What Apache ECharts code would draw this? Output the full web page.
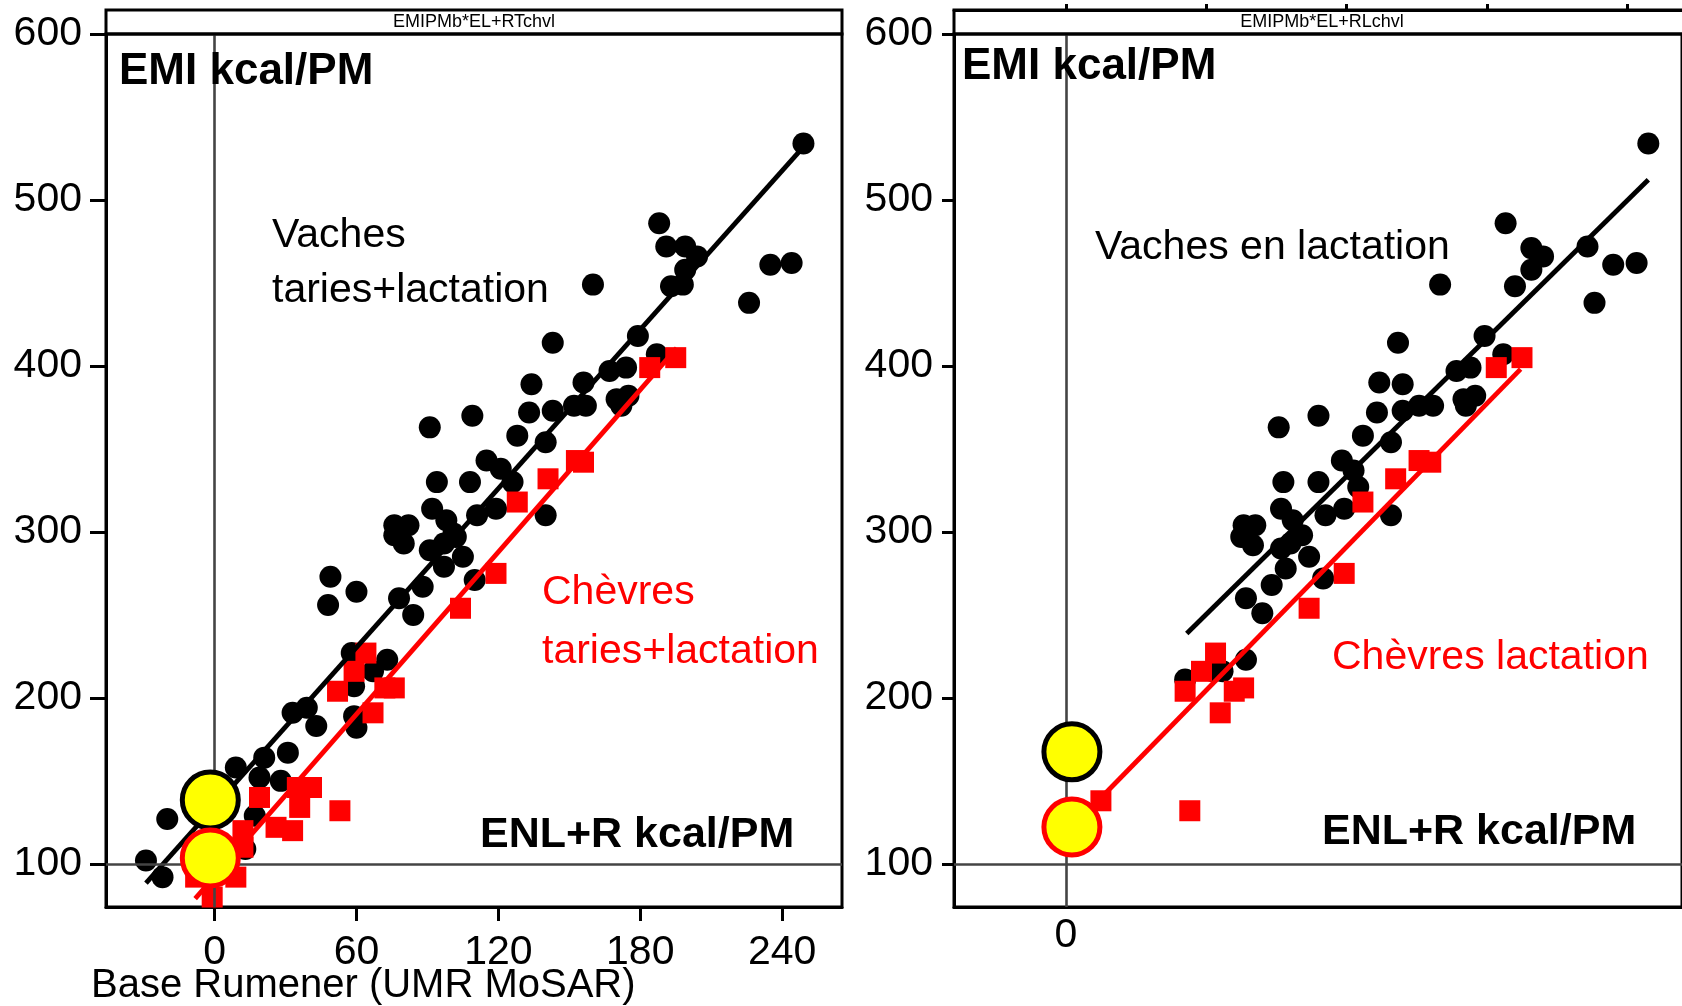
<!DOCTYPE html>
<html><head><meta charset="utf-8">
<script src="https://cdn.jsdelivr.net/npm/echarts@6/dist/echarts.min.js"></script>
<style>html,body{margin:0;padding:0;background:#fff}#c{width:1682px;height:1006px}</style>
</head><body><div id="c"></div><script>
// ---- tick labels ----
const xTicks = [0, 60, 120, 180, 240];
const yTicks = [100, 200, 300, 400, 500, 600];
const xTicksRightLabels = [0];

// ---- panel titles / texts ----
const headerLeft = 'EMIPMb*EL+RTchvl';
const headerRight = 'EMIPMb*EL+RLchvl';

// ---- left panel: taries + lactation ----
const vachesTL = [[249,534],[188,486],[191,472],[199,472],[204,466],[199,458],[193,448],[198,449],[235,461],[244,462],
[226,438],[160,449],[179,418],[143,414],[187,407],[174,399],[167,397],[156,390],[134,389],[170,380],[175,382],[172,376],
[157,376],[152,376],[143,373],[133,372],[109,370],[91,363],[128,358],[140,354],[115,343],[121,338],[126,330],[94,330],
[108,330],[92,314],[98,307],[111,310],[119,314],[140,310],[76,304],[82,304],[101,299],[76,298],[80,293],[91,289],[97,293],
[102,297],[105,285],[97,279],[88,267],[110,271],[78,260],[84,250],[49,273],[60,264],[48,256],[58,227],[73,223],[67,216],
[59,207],[33,191],[39,194],[43,183],[59,189],[60,182],[31,167],[21,164],[9,158],[19,152],[28,150],[17,129],[-20,127],
[-29,102],[-22,92],[13,109]];
const chevresTL = [[195,405],[184,399],[153,343],[156,342],[141,332],[128,318],[119,275],[104,254],[64,227],[59,216],
[52,204],[72,206],[76,206],[67,191],[19,140],[35,146],[41,146],[36,134],[53,132],[26,122],[33,120],[12,120],[12,110],
[9,92],[-8,92],[-1,80]];
const fitVachesTL = [[-29,88.4],[249,532]];
const fitChevresTL = [[-8.2,79],[195.4,410.7]];
const refVachesTL = [[-1.8,138.5]];
const refChevresTL = [[-1.8,103.5]];

// ---- right panel: lactation ----
const vachesL = [[249,534],[188,486],[199,471],[204,466],[199,458],[192,448],[223,472],[234,461],[244,462],[226,438],
[160,449],[179,418],[142,414],[187,407],[173,399],[167,397],[134,390],[144,389],[170,380],[175,382],[171,376],[157,376],
[151,376],[144,373],[133,372],[108,370],[91,363],[127,358],[139,354],[118,343],[123,337],[125,327],[93,330],[108,330],
[92,314],[97,307],[111,310],[119,314],[139,310],[76,304],[81,304],[101,298],[75,297],[80,292],[92,290],[96,293],[104,285],
[94,278],[110,272],[88,268],[77,260],[84,251],[77,223],[67,216],[63,216],[51,211]];
const chevresL = [[195,405],[184,399],[151,343],[156,342],[141,332],[127,318],[119,275],[104,254],[64,227],[58,216],
[51,204],[72,204],[76,206],[66,191],[53,132],[15,138]];
const fitVachesL = [[51.7,238.8],[249,512.2]];
const fitChevresL = [[14,138.3],[194.4,398.1]];
const refVachesL = [[2.6,167.5]];
const refChevresL = [[2.6,122.2]];

const FONT = '"Liberation Sans", Arial, sans-serif';
const chart = echarts.init(document.getElementById('c'), null, {renderer: 'canvas'});

function xAxis(grid, min, max, labels, margin, tickLen, position, offset, showLabel) {
  return {
    type: 'value', gridIndex: grid, min: min, max: max, position: position || 'bottom', offset: offset || 0,
    axisLine: {show: true, onZero: false, lineStyle: {color: '#000', width: 3}},
    axisTick: {show: tickLen > 0, length: tickLen, customValues: xTicks, lineStyle: {color: '#000', width: 3}},
    axisLabel: {show: showLabel !== false, customValues: labels, margin: margin, fontSize: 41, fontFamily: FONT, color: '#000'},
    splitLine: {show: false}
  };
}
function yAxis(grid, tickLen, margin) {
  return {
    type: 'value', gridIndex: grid, min: 74, max: 600,
    axisLine: {show: true, onZero: false, lineStyle: {color: '#000', width: 3}},
    axisTick: {show: true, length: tickLen, customValues: yTicks, lineStyle: {color: '#000', width: 3}},
    axisLabel: {customValues: yTicks, margin: margin, fontSize: 41, fontFamily: FONT, color: '#000'},
    splitLine: {show: false}
  };
}
function refLines(xi, yi) {
  return {type: 'line', xAxisIndex: xi, yAxisIndex: yi, data: [], z: 1, silent: true,
    markLine: {silent: true, symbol: 'none', label: {show: false},
      lineStyle: {color: '#444', width: 2.6, type: 'solid'},
      data: [{xAxis: 0}, {yAxis: 100}]}};
}
function scatter(xi, yi, data, sym, color, size, z) {
  return {type: 'scatter', xAxisIndex: xi, yAxisIndex: yi, data: data, symbol: sym, symbolSize: size,
    itemStyle: {color: color, opacity: 1}, z: z, silent: true};
}
function fit(xi, yi, data, color) {
  return {type: 'line', xAxisIndex: xi, yAxisIndex: yi, data: data, showSymbol: false, symbol: 'none',
    lineStyle: {color: color, width: 4.8}, z: 4, silent: true};
}
function ref(xi, yi, data, border) {
  return {type: 'scatter', xAxisIndex: xi, yAxisIndex: yi, data: data, symbol: 'circle', symbolSize: 56,
    itemStyle: {color: '#ffff00', borderColor: border, borderWidth: 5, opacity: 1}, z: 5, silent: true};
}
function txt(x, y, s, size, color, bold, align, family) {
  return {type: 'text', x: x, y: y, silent: true, z: 100,
    style: {text: s, fill: color || '#000', fontSize: size, fontWeight: bold ? 'bold' : 'normal',
      fontFamily: family || FONT, textAlign: align || 'left', textVerticalAlign: 'middle'}};
}

chart.setOption({
  animation: false,
  backgroundColor: '#fff',
  grid: [
    {left: 106, top: 34, width: 736, height: 873, show: true, borderColor: '#000', borderWidth: 3, backgroundColor: 'transparent'},
    {left: 954, top: 34, width: 736, height: 873, show: true, borderColor: '#000', borderWidth: 3, backgroundColor: 'transparent'}
  ],
  xAxis: [
    xAxis(0, -45.9, 265.3, xTicks, 25, 14),
    xAxis(1, -47.8, 263.4, xTicksRightLabels, 8, 0),
    xAxis(1, -47.8, 263.4, [], 0, 6, 'top', 24, false)
  ],
  yAxis: [yAxis(0, 16, 24), yAxis(1, 12, 21)],
  series: [
    refLines(0, 0),
    scatter(0, 0, vachesTL, 'circle', '#000', 22, 2),
    scatter(0, 0, chevresTL, 'rect', '#ff0000', 21, 3),
    fit(0, 0, fitVachesTL, '#000'),
    fit(0, 0, fitChevresTL, '#ff0000'),
    ref(0, 0, refVachesTL, '#000'),
    ref(0, 0, refChevresTL, '#ff0000'),
    refLines(1, 1),
    scatter(1, 1, vachesL, 'circle', '#000', 22, 2),
    scatter(1, 1, chevresL, 'rect', '#ff0000', 21, 3),
    fit(1, 1, fitVachesL, '#000'),
    fit(1, 1, fitChevresL, '#ff0000'),
    ref(1, 1, refVachesL, '#000'),
    ref(1, 1, refChevresL, '#ff0000')
  ],
  graphic: [
    {type: 'rect', shape: {x: 106, y: 10, width: 736, height: 24}, style: {fill: 'none', stroke: '#000', lineWidth: 3}, silent: true, z: 50},
    {type: 'rect', shape: {x: 954, y: 10, width: 760, height: 24}, style: {fill: 'none', stroke: '#000', lineWidth: 3}, silent: true, z: 50},
    txt(474, 22, headerLeft, 18, '#000', false, 'center'),
    txt(1322, 22, headerRight, 18, '#000', false, 'center'),
    txt(119, 72, 'EMI kcal/PM', 44, '#000', true),
    txt(272, 236, 'Vaches', 41, '#000'),
    txt(272, 291, 'taries+lactation', 41, '#000'),
    txt(542, 593, 'Chèvres', 41, '#ff0000'),
    txt(542, 652, 'taries+lactation', 41, '#ff0000'),
    txt(480, 835, 'ENL+R kcal/PM', 43, '#000', true),
    txt(962, 67, 'EMI kcal/PM', 44, '#000', true),
    txt(1095, 248, 'Vaches en lactation', 41, '#000'),
    txt(1332, 658, 'Chèvres lactation', 41, '#ff0000'),
    txt(1322, 832, 'ENL+R kcal/PM', 43, '#000', true),
    txt(91, 986, 'Base Rumener (UMR MoSAR)', 40, '#000')
  ]
});
</script></body></html>
